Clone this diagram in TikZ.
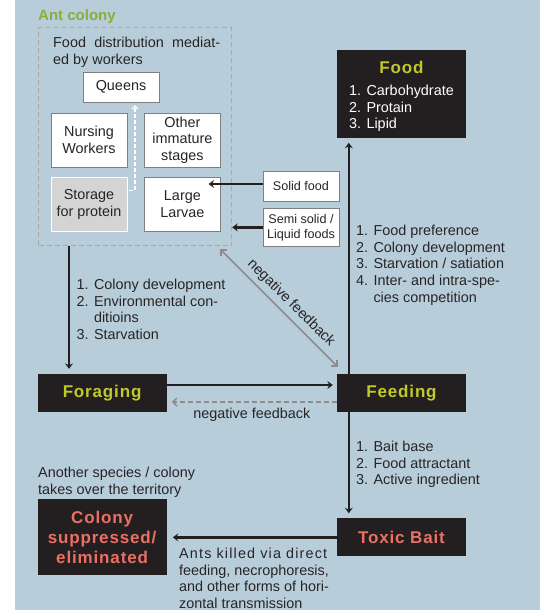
\documentclass[tikz,border=0pt]{standalone}
\usepackage{fontspec}
\setmainfont{Liberation Sans}
\usetikzlibrary{positioning,arrows.meta,calc}

\definecolor{bgblue}{RGB}{183,206,218}
\definecolor{boxblack}{RGB}{35,31,32}
\definecolor{limetxt}{RGB}{192,201,42}
\definecolor{salmon}{RGB}{234,112,100}
\definecolor{antgreen}{RGB}{140,172,60}
\definecolor{fbgray}{RGB}{140,140,140}
\definecolor{dashgray}{RGB}{168,168,168}
\definecolor{txtdark}{RGB}{40,36,38}
\definecolor{storegray}{RGB}{212,212,212}

\newcommand{\bodyfont}{\fontsize{14.4}{16.6}\selectfont}
\newcommand{\tagfont}{\fontsize{12.6}{15}\selectfont}
\newcommand{\headfont}{\fontsize{17}{20}\selectfont\bfseries\addfontfeature{LetterSpace=5}}

\tikzset{
  btip/.tip={Stealth[length=5.5pt,width=8pt,inset=2pt]},
  gtip/.tip={Straight Barb[length=4pt,width=8pt]},
  blk/.style={fill=boxblack, minimum width=129pt, minimum height=38pt, inner sep=0pt, font=\headfont, align=center},
  wbox/.style={draw=gray, fill=white, minimum width=76pt, minimum height=54pt, inner sep=0pt, font=\bodyfont, align=center, text=txtdark},
  tag/.style={draw=gray, fill=white, minimum width=76pt, inner sep=0pt, font=\tagfont, align=center, text=txtdark},
  lst/.style={anchor=north west, inner sep=0pt, align=left, font=\bodyfont, text=txtdark},
  arr/.style={line width=2.2pt, draw=boxblack, -btip},
  fb/.style={line width=1.5pt, draw=fbgray, -gtip}
}

\begin{document}
\begin{tikzpicture}[x=1pt,y=-1pt]
  \useasboundingbox (0,0) rectangle (540,610);
  \fill[bgblue] (15,0) rectangle (540,610);

  \node[font=\fontsize{15}{18}\selectfont\bfseries, text=antgreen, anchor=west, inner sep=0pt] (0) at (38,17) {Ant colony};
  \node[draw=dashgray, line width=1.2pt, dash pattern=on 5pt off 3pt, minimum width=193pt, minimum height=218pt, anchor=north west, inner sep=0pt] (1) at (38,27) {};
  \node[lst, text width=167pt, align=justify] (2) at (53,37) {Food distribution mediat-\linebreak ed by workers};

  \node[wbox, minimum height=30pt] (3) at (121,87) {Queens};
  \node[wbox] (4) at (89,140) {Nursing\\Workers};
  \node[wbox, right=17pt of 4] (5) {Other\\immature\\stages};
  \node[wbox, fill=storegray, draw=white, below=10pt of 4] (6) {Storage\\for protein};
  \node[wbox, right=17pt of 6] (7) {Large\\Larvae};

  \node[tag, minimum height=30pt] (8) at (301,186) {Solid food};
  \node[tag, minimum height=38pt, below=7pt of 8] (9) {Semi solid /\\Liquid foods};

  \node[blk, text=limetxt] (12) at (401.5,393) {Feeding};
  \node[blk, text=limetxt, left=170pt of 12] (11) {Foraging};
  \node[blk, text=salmon, below=106pt of 12] (13) {Toxic Bait};
  \node[blk, text=salmon, minimum height=76pt, left=170pt of 13] (14) {Colony\\suppressed/\\eliminated};
  \node[blk, minimum height=88pt, font=\bodyfont, text=white, above=236pt of 12] (10)
    {\raisebox{-4pt}[\height][\depth]{\begin{tabular}{@{}l@{}}\multicolumn{1}{@{}c@{}}{\headfont\color{limetxt}Food}\\[5pt]1. Carbohydrate\\2. Protain\\3. Lipid\end{tabular}}};

  \node[lst] (15) at (76.5,279) {1. Colony development\\2. Environmental con-\\\phantom{2. }ditioins\\3. Starvation};
  \node[lst] (16) at (356,225) {1. Food preference\\2. Colony development\\3. Starvation / satiation\\4. Inter- and intra-spe-\\\phantom{4. }cies competition};
  \node[lst] (17) at (356,441) {1. Bait base\\2. Food attractant\\3. Active ingredient};
  \node[lst] (18) at (38,467) {Another species / colony\\takes over the territory};
  \node[lst] (19) at (179,548) {{\addfontfeature{LetterSpace=8}Ants killed via direct}\\feeding, necrophoresis,\\and other forms of hori-\\zontal transmission};

  \coordinate (c1) at ([xshift=31pt]1.south west);
  \coordinate (c2) at ([xshift=12pt]12.north west);
  \coordinate (c3) at ([xshift=12pt]12.south west);

  \draw[white, line width=1.2pt, dash pattern=on 4pt off 2pt, -{Straight Barb[length=3pt,width=6pt]}]
    ([xshift=2pt,yshift=14pt]6.east) -| ([xshift=14pt,yshift=-3pt]3.south);
  \draw[arr] ([yshift=2pt]8.west) -- ([xshift=-12pt,yshift=2pt]8.west -| 7.east);
  \draw[arr] (9.west) -- (9.west -| 1.east);
  \draw[arr, shorten >=5pt] (c1) -- (c1 |- 11.north);
  \draw[arr, shorten >=5pt] (c2) -- (c2 |- 10.south);
  \draw[arr, shorten >=5pt] (c3) -- (c3 |- 13.north);
  \draw[arr, shorten >=4pt] ([yshift=8pt]11.east) -- ([yshift=8pt]12.west);
  \draw[fb, dash pattern=on 5pt off 3pt, shorten >=5pt] ([yshift=-9pt]12.west)
    -- node[below, inner sep=5.5pt, font=\bodyfont, text=txtdark] {negative feedback} ([yshift=-9pt]11.east);
  \draw[fb, gtip-gtip] ([xshift=-12pt,yshift=-3pt]1.south east)
    -- node[sloped, above, pos=0.53, inner sep=4.5pt, font=\bodyfont, text=txtdark] {negative feedback} ([xshift=1pt,yshift=7pt]12.north west);
  \draw[arr, shorten >=6pt] (13) -- (14);
\end{tikzpicture}
\end{document}
